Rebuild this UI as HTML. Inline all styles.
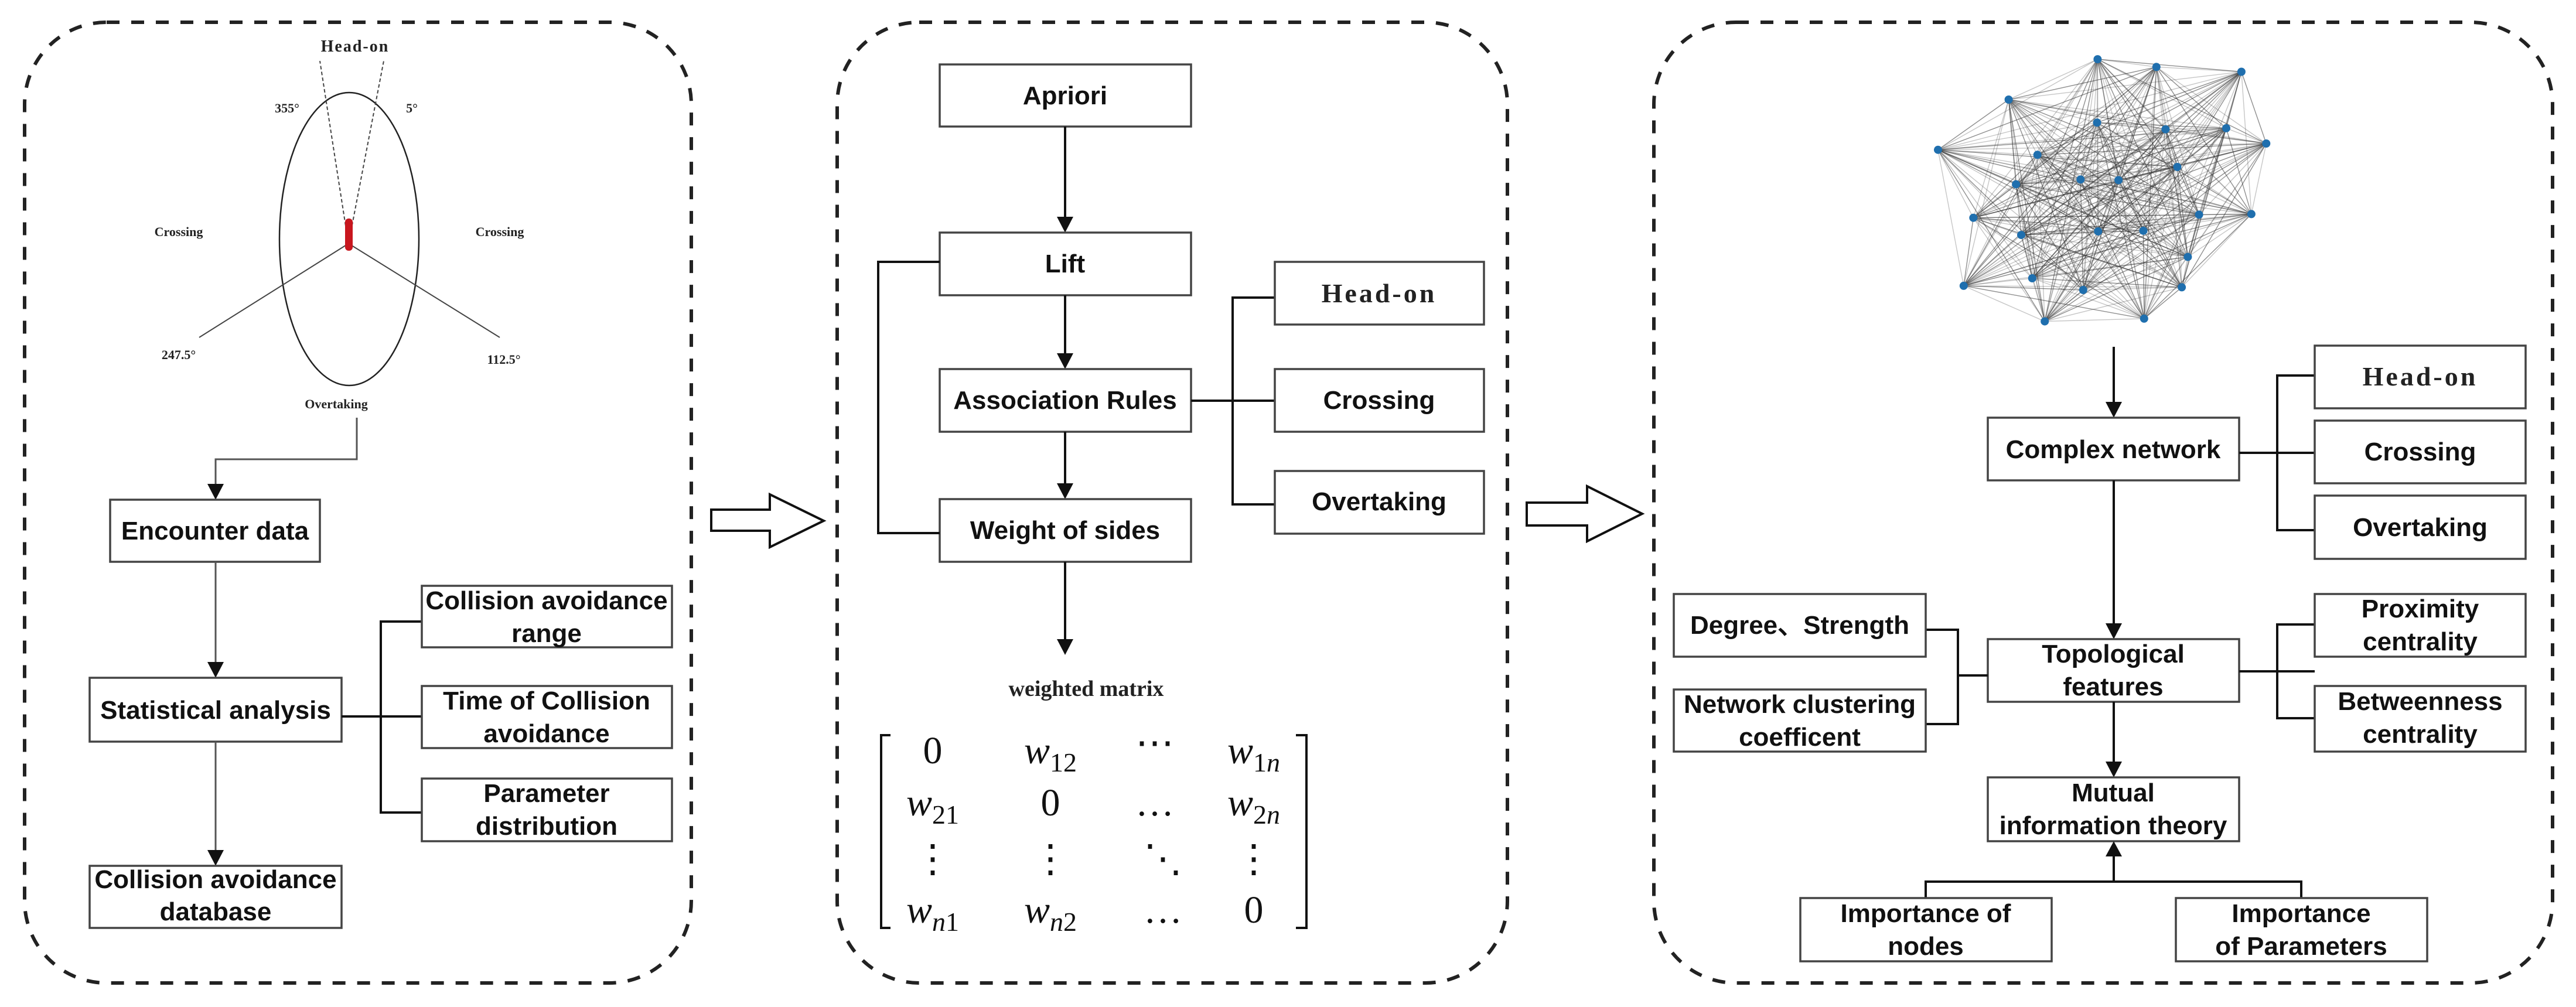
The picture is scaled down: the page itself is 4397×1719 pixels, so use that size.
<!DOCTYPE html>
<html><head><meta charset="utf-8"><style>
html,body{margin:0;padding:0;background:#fff;}
svg{display:block;}
.b{font-family:"Liberation Sans","DejaVu Sans",sans-serif;font-weight:bold;font-size:44px;fill:#111;}
.s{font-family:"Liberation Serif",serif;font-weight:bold;fill:#222;}
.box{fill:#fff;stroke:#444;stroke-width:3.5;}
.ln{stroke:#111;stroke-width:4;fill:none;}
.cn{stroke:#555;stroke-width:3;fill:none;}
.m{font-family:"Liberation Serif",serif;font-size:66px;fill:#111;}
</style></head><body>
<svg id="sv" width="4397" height="1719" viewBox="0 0 4397 1719" xmlns="http://www.w3.org/2000/svg">
<!-- panels -->
<g fill="none" stroke="#222" stroke-width="6" stroke-dasharray="22 20">
<rect x="42" y="38" width="1138" height="1640" rx="140"/>
<rect x="1429" y="38" width="1144" height="1640" rx="140"/>
<rect x="2823" y="38" width="1534" height="1640" rx="140"/>
</g>

<!-- hollow arrows -->
<path d="M1214 870 H1314 V844 L1406 889 L1314 934 V906 H1214 Z" fill="#fff" stroke="#111" stroke-width="4"/>
<path d="M2606 858 H2709 V830 L2803 877 L2709 924 V897 H2606 Z" fill="#fff" stroke="#111" stroke-width="4"/>

<!-- PANEL 1 -->
<ellipse cx="596" cy="408" rx="119" ry="250" fill="none" stroke="#222" stroke-width="2.5"/>
<g stroke="#444" stroke-width="2" stroke-dasharray="6 4">
<line x1="593" y1="405" x2="546" y2="104"/>
<line x1="597" y1="405" x2="655" y2="104"/>
</g>
<g stroke="#444" stroke-width="2">
<line x1="593" y1="417" x2="340" y2="576"/>
<line x1="597" y1="417" x2="853" y2="576"/>
</g>
<rect x="589" y="373" width="13" height="55" rx="6" fill="#c8161e"/>
<text class="s" x="606" y="88" font-size="28" text-anchor="middle" letter-spacing="2">Head-on</text>
<text class="s" x="490" y="192" font-size="22" text-anchor="middle">355°</text>
<text class="s" x="703" y="192" font-size="22" text-anchor="middle">5°</text>
<text class="s" x="305" y="403" font-size="22" text-anchor="middle">Crossing</text>
<text class="s" x="853" y="403" font-size="22" text-anchor="middle">Crossing</text>
<text class="s" x="305" y="613" font-size="22" text-anchor="middle">247.5°</text>
<text class="s" x="860" y="621" font-size="22" text-anchor="middle">112.5°</text>
<text class="s" x="574" y="697" font-size="22" text-anchor="middle">Overtaking</text>

<polyline class="cn" points="609,713 609,784 368,784 368,830"/>
<path d="M354 826 L382 826 L368 853 Z" fill="#111"/>
<rect class="box" x="188" y="853" width="358" height="106"/>
<text class="b" x="367" y="921" text-anchor="middle">Encounter data</text>
<line class="cn" x1="368" y1="959" x2="368" y2="1134"/>
<path d="M354 1130 L382 1130 L368 1157 Z" fill="#111"/>
<rect class="box" x="153" y="1157" width="430" height="109"/>
<text class="b" x="368" y="1227" text-anchor="middle">Statistical analysis</text>
<line class="cn" x1="368" y1="1266" x2="368" y2="1455"/>
<path d="M354 1451 L382 1451 L368 1478 Z" fill="#111"/>
<rect class="box" x="153" y="1478" width="430" height="106"/>
<text class="b" x="368" y="1516" text-anchor="middle">Collision avoidance</text>
<text class="b" x="368" y="1571" text-anchor="middle">database</text>

<polyline class="ln" points="583,1223 720,1223"/>
<polyline class="ln" points="720,1061 650,1061 650,1387 720,1387"/>
<rect class="box" x="720" y="1000" width="427" height="105"/>
<text class="b" x="933" y="1040" text-anchor="middle">Collision avoidance</text>
<text class="b" x="933" y="1096" text-anchor="middle">range</text>
<rect class="box" x="720" y="1171" width="427" height="106"/>
<text class="b" x="933" y="1211" text-anchor="middle">Time of Collision</text>
<text class="b" x="933" y="1267" text-anchor="middle">avoidance</text>
<rect class="box" x="720" y="1329" width="427" height="107"/>
<text class="b" x="933" y="1369" text-anchor="middle">Parameter</text>
<text class="b" x="933" y="1425" text-anchor="middle">distribution</text>

<!-- PANEL 2 -->
<rect class="box" x="1604" y="110" width="429" height="106"/>
<text class="b" x="1818" y="178" text-anchor="middle">Apriori</text>
<line class="ln" x1="1818" y1="216" x2="1818" y2="374"/>
<path d="M1804 370 L1832 370 L1818 397 Z" fill="#111"/>
<rect class="box" x="1604" y="397" width="429" height="107"/>
<text class="b" x="1818" y="465" text-anchor="middle">Lift</text>
<line class="ln" x1="1818" y1="504" x2="1818" y2="607"/>
<path d="M1804 603 L1832 603 L1818 630 Z" fill="#111"/>
<rect class="box" x="1604" y="630" width="429" height="107"/>
<text class="b" x="1818" y="698" text-anchor="middle">Association Rules</text>
<line class="ln" x1="1818" y1="737" x2="1818" y2="829"/>
<path d="M1804 825 L1832 825 L1818 852 Z" fill="#111"/>
<rect class="box" x="1604" y="852" width="429" height="107"/>
<text class="b" x="1818" y="920" text-anchor="middle">Weight of sides</text>
<line class="ln" x1="1818" y1="959" x2="1818" y2="1095"/>
<path d="M1804 1091 L1832 1091 L1818 1118 Z" fill="#111"/>
<polyline class="ln" points="1604,447 1499,447 1499,910 1604,910"/>

<polyline class="ln" points="2033,684 2176,684"/>
<polyline class="ln" points="2176,508 2104,508 2104,861 2176,861"/>
<rect class="box" x="2176" y="447" width="357" height="107"/>
<text class="s" x="2354" y="516" font-size="46" text-anchor="middle" letter-spacing="4">Head-on</text>
<rect class="box" x="2176" y="630" width="357" height="107"/>
<text class="b" x="2354" y="698" text-anchor="middle">Crossing</text>
<rect class="box" x="2176" y="804" width="357" height="107"/>
<text class="b" x="2354" y="871" text-anchor="middle">Overtaking</text>

<text class="s" x="1854" y="1188" font-size="38" text-anchor="middle">weighted matrix</text>
<path d="M1520 1255 H1504 V1584 H1520" fill="none" stroke="#111" stroke-width="4"/>
<path d="M2212 1255 H2230 V1584 H2212" fill="none" stroke="#111" stroke-width="4"/>
<g class="m" text-anchor="middle">
<text x="1592" y="1303">0</text>
<text x="1793" y="1303"><tspan font-style="italic">w</tspan><tspan font-size="46" dy="14">12</tspan></text>
<text x="1971" y="1290">⋯</text>
<text x="2140" y="1303"><tspan font-style="italic">w</tspan><tspan font-size="46" dy="14">1</tspan><tspan font-size="46" font-style="italic">n</tspan></text>
<text x="1592" y="1392"><tspan font-style="italic">w</tspan><tspan font-size="46" dy="14">21</tspan></text>
<text x="1793" y="1392">0</text>
<text x="1971" y="1392">…</text>
<text x="2140" y="1392"><tspan font-style="italic">w</tspan><tspan font-size="46" dy="14">2</tspan><tspan font-size="46" font-style="italic">n</tspan></text>
<text x="1592" y="1488">⋮</text>
<text x="1793" y="1488">⋮</text>
<text x="1985" y="1488">⋱</text>
<text x="2140" y="1488">⋮</text>
<text x="1592" y="1575"><tspan font-style="italic">w</tspan><tspan font-size="46" dy="14" font-style="italic">n</tspan><tspan font-size="46">1</tspan></text>
<text x="1793" y="1575"><tspan font-style="italic">w</tspan><tspan font-size="46" dy="14" font-style="italic">n</tspan><tspan font-size="46">2</tspan></text>
<text x="1985" y="1575">…</text>
<text x="2140" y="1575">0</text>
</g>

<!-- PANEL 3 -->
<g id="net"></g>
<line class="ln" x1="3608" y1="592" x2="3608" y2="690"/>
<path d="M3594 686 L3622 686 L3608 713 Z" fill="#111"/>
<rect class="box" x="3393" y="713" width="429" height="107"/>
<text class="b" x="3607" y="782" text-anchor="middle">Complex network</text>
<polyline class="ln" points="3822,773 3951,773"/>
<polyline class="ln" points="3951,641 3887,641 3887,905 3951,905"/>
<rect class="box" x="3951" y="590" width="360" height="107"/>
<text class="s" x="4131" y="658" font-size="46" text-anchor="middle" letter-spacing="4">Head-on</text>
<rect class="box" x="3951" y="718" width="360" height="107"/>
<text class="b" x="4131" y="786" text-anchor="middle">Crossing</text>
<rect class="box" x="3951" y="846" width="360" height="108"/>
<text class="b" x="4131" y="915" text-anchor="middle">Overtaking</text>

<line class="ln" x1="3608" y1="820" x2="3608" y2="1068"/>
<path d="M3594 1064 L3622 1064 L3608 1091 Z" fill="#111"/>
<rect class="box" x="3393" y="1091" width="429" height="107"/>
<text class="b" x="3607" y="1131" text-anchor="middle">Topological</text>
<text class="b" x="3607" y="1187" text-anchor="middle">features</text>
<polyline class="ln" points="3822,1146 3951,1146"/>
<polyline class="ln" points="3951,1066 3887,1066 3887,1226 3951,1226"/>
<rect class="box" x="3951" y="1014" width="360" height="107"/>
<text class="b" x="4131" y="1054" text-anchor="middle">Proximity</text>
<text class="b" x="4131" y="1110" text-anchor="middle">centrality</text>
<rect class="box" x="3951" y="1171" width="360" height="112"/>
<text class="b" x="4131" y="1212" text-anchor="middle">Betweenness</text>
<text class="b" x="4131" y="1268" text-anchor="middle">centrality</text>

<polyline class="ln" points="3393,1153 3342,1153"/>
<polyline class="ln" points="3287,1075 3342,1075 3342,1236 3287,1236"/>
<rect class="box" x="2857" y="1014" width="430" height="107"/>
<text class="b" x="3072" y="1082" text-anchor="middle">Degree、Strength</text>
<rect class="box" x="2857" y="1177" width="430" height="106"/>
<text class="b" x="3072" y="1217" text-anchor="middle">Network clustering</text>
<text class="b" x="3072" y="1273" text-anchor="middle">coefficent</text>

<line class="ln" x1="3608" y1="1198" x2="3608" y2="1304"/>
<path d="M3594 1300 L3622 1300 L3608 1327 Z" fill="#111"/>
<rect class="box" x="3393" y="1327" width="429" height="109"/>
<text class="b" x="3607" y="1368" text-anchor="middle">Mutual</text>
<text class="b" x="3607" y="1424" text-anchor="middle">information theory</text>

<polyline class="ln" points="3287,1533 3287,1505 3928,1505 3928,1533" stroke-width="3"/>
<line class="ln" x1="3608" y1="1505" x2="3608" y2="1458"/>
<path d="M3594 1462 L3622 1462 L3608 1436 Z" fill="#111"/>
<rect class="box" x="3073" y="1533" width="429" height="108"/>
<text class="b" x="3287" y="1574" text-anchor="middle">Importance of</text>
<text class="b" x="3287" y="1630" text-anchor="middle">nodes</text>
<rect class="box" x="3714" y="1533" width="429" height="108"/>
<text class="b" x="3928" y="1574" text-anchor="middle">Importance</text>
<text class="b" x="3928" y="1630" text-anchor="middle">of Parameters</text>
</svg>
<script>
(function(){
var z=[[740,115],[965,152],[1290,175],[400,308],[738,418],[1000,450],[1232,445],[1385,518],[130,548],[510,572],[1045,630],[675,690],[820,693],[428,713],[265,873],[1128,858],[1328,855],[448,955],[742,938],[915,935],[1085,1060],[228,1198],[490,1162],[685,1218],[1062,1205],[538,1368],[918,1355]];
var p=z.map(function(a){return [3250+a[0]/2.24,60+a[1]/2.8];});
var g=document.getElementById("net"),s="";
for(var i=0;i<p.length;i++)for(var j=i+1;j<p.length;j++){
var o=((i*7+j*13)%5<2)?0.55:0.28;
s+='<line x1="'+p[i][0].toFixed(1)+'" y1="'+p[i][1].toFixed(1)+'" x2="'+p[j][0].toFixed(1)+'" y2="'+p[j][1].toFixed(1)+'" stroke="#333" stroke-opacity="'+o+'" stroke-width="1.4"/>';}
for(var k=0;k<p.length;k++)s+='<circle cx="'+p[k][0].toFixed(1)+'" cy="'+p[k][1].toFixed(1)+'" r="7" fill="#1f6fae"/>';
g.innerHTML=s;
})();
</script>
</body></html>
